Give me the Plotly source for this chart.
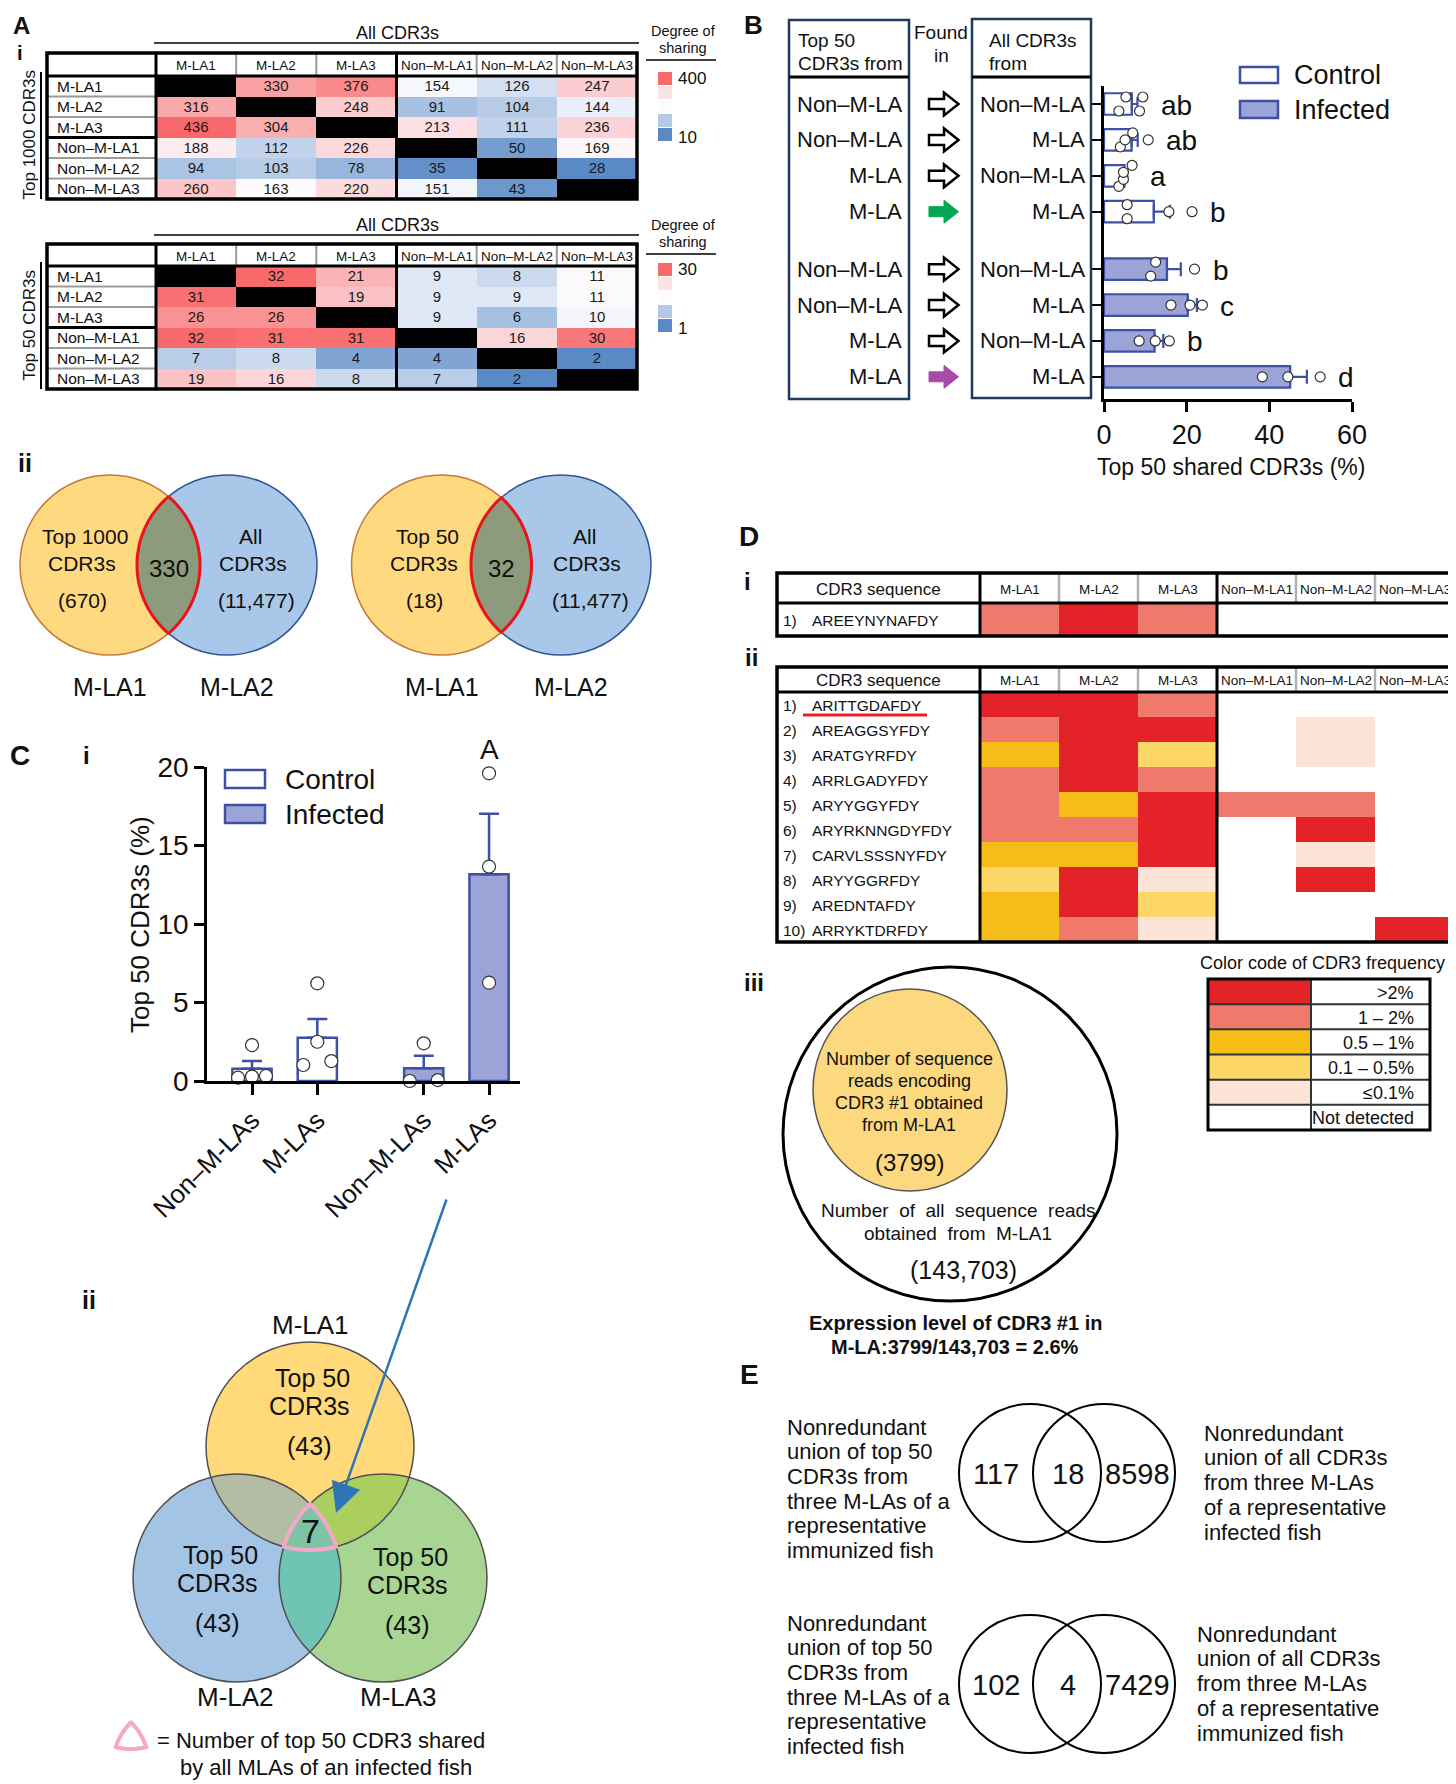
import numpy as np
import plotly.graph_objects as go
from plotly.colors import sample_colorscale

W, H = 1456, 1784          # target picture size (px)
OFF = 8                    # page body margin that the figure sits behind
SANS = "Liberation Sans, Arial, Helvetica, sans-serif"
NARROW = "Liberation Sans Narrow, Arial Narrow, Liberation Sans, sans-serif"

# ---------------- data ----------------
LA_NAMES = ["M-LA1", "M-LA2", "M-LA3", "Non–M-LA1", "Non–M-LA2", "Non–M-LA3"]
SHARED_TOP1000 = [
    [None, 330, 376, 154, 126, 247],
    [316, None, 248, 91, 104, 144],
    [436, 304, None, 213, 111, 236],
    [188, 112, 226, None, 50, 169],
    [94, 103, 78, 35, None, 28],
    [260, 163, 220, 151, 43, None],
]
SHARED_TOP50 = [
    [None, 32, 21, 9, 8, 11],
    [31, None, 19, 9, 9, 11],
    [26, 26, None, 9, 6, 10],
    [32, 31, 31, None, 16, 30],
    [7, 8, 4, 4, None, 2],
    [19, 16, 8, 7, 2, None],
]
VENN_A_TOP1000 = [670, 330, 11477]   # top-only, shared, all CDR3s
VENN_A_TOP50 = [18, 32, 11477]

B_FROM = ["Non–M-LA", "Non–M-LA", "M-LA", "M-LA", "Non–M-LA", "Non–M-LA", "M-LA", "M-LA"]
B_IN = ["Non–M-LA", "M-LA", "Non–M-LA", "M-LA", "Non–M-LA", "M-LA", "Non–M-LA", "M-LA"]
B_GROUP = ["Control"] * 4 + ["Infected"] * 4
B_POINTS = [
    [3.6, 5.3, 8.6, 9.4],
    [3.95, 5.1, 6.95, 10.7],
    [3.6, 4.7, 4.7, 6.8],
    [5.6, 5.6, 15.7, 21.3],
    [11.3, 12.5, 21.9],
    [16.2, 20.8, 23.8],
    [8.5, 12.4, 15.8],
    [38.3, 44.5, 52.3],
]
B_LETTERS = ["ab", "ab", "a", "b", "b", "c", "b", "d"]
B_XTICKS = [0, 20, 40, 60]

C_CATS = ["Non–M-LAs", "M-LAs", "Non–M-LAs", "M-LAs"]
C_GROUP = ["Control", "Control", "Infected", "Infected"]
C_POINTS = [
    [0.21, 0.28, 0.32, 2.29],
    [1.02, 1.27, 2.5, 6.22],
    [0.0, 0.06, 2.4],
    [6.26, 13.65, 19.6],
]
C_LETTERS = ["", "", "", "A"]
C_YTICKS = [0, 5, 10, 15, 20]
C_VENN_SETS = ["M-LA1", "M-LA2", "M-LA3"]
C_VENN_COUNTS = [43, 43, 43]
C_VENN_TRIPLE = 7

D_I_SEQ = ["AREEYNYNAFDY"]
D_I_FREQ = [[4, 5, 4, 0, 0, 0]]
D_II_SEQ = ["ARITTGDAFDY", "AREAGGSYFDY", "ARATGYRFDY", "ARRLGADYFDY", "ARYYGGYFDY",
            "ARYRKNNGDYFDY", "CARVLSSSNYFDY", "ARYYGGRFDY", "AREDNTAFDY", "ARRYKTDRFDY"]
D_II_FREQ = [
    [5, 5, 4, 0, 0, 0],
    [4, 5, 5, 0, 1, 0],
    [3, 5, 2, 0, 1, 0],
    [4, 5, 4, 0, 0, 0],
    [4, 3, 5, 4, 4, 0],
    [4, 4, 5, 0, 5, 0],
    [3, 3, 5, 0, 1, 0],
    [2, 5, 1, 0, 5, 0],
    [3, 5, 2, 0, 0, 0],
    [3, 4, 1, 0, 0, 5],
]
FREQ_CODES = [5, 4, 3, 2, 1, 0]
FREQ_LABELS = [">2%", "1 – 2%", "0.5 – 1%", "0.1 – 0.5%", "≤0.1%", "Not detected"]
READS_CDR3_1 = 3799
READS_TOTAL = 143703

E_VENN_1 = [117, 18, 8598]
E_VENN_2 = [102, 4, 7429]
E_TEXT_1L = ["Nonredundant", "union of top 50", "CDR3s from", "three M-LAs of a", "representative", "immunized fish"]
E_TEXT_1R = ["Nonredundant", "union of all CDR3s", "from three M-LAs", "of a representative", "infected fish"]
E_TEXT_2L = ["Nonredundant", "union of top 50", "CDR3s from", "three M-LAs of a", "representative", "infected fish"]
E_TEXT_2R = ["Nonredundant", "union of all CDR3s", "from three M-LAs", "of a representative", "immunized fish"]

# ---------------- helpers ----------------
fig = go.Figure()
shapes, annos = [], []
layout_axes = {}
FW, FH = W - OFF, H - OFF


def T(x, y, s, size=16, xa="center", ya="middle", color="#111", family=SANS, bold=False, angle=0):
    if bold:
        s = f"<b>{s}</b>"
    annos.append(dict(x=x, y=y, xref="x", yref="y", text=s, showarrow=False, xanchor=xa,
                      yanchor=ya, textangle=angle, font=dict(size=size, color=color, family=family)))


def L(x0, y0, x1, y1, color="#000", w=2):
    shapes.append(dict(type="line", xref="x", yref="y", x0=x0, y0=y0, x1=x1, y1=y1,
                       line=dict(color=color, width=w)))


def R(x0, y0, x1, y1, line="#000", w=2, fill="rgba(0,0,0,0)"):
    shapes.append(dict(type="rect", xref="x", yref="y", x0=x0, y0=y0, x1=x1, y1=y1,
                       line=dict(color=line, width=w), fillcolor=fill))


def CIRC(cx, cy, rx, ry=None, line="#000", w=2, fill="rgba(0,0,0,0)"):
    ry = rx if ry is None else ry
    shapes.append(dict(type="circle", xref="x", yref="y", x0=cx - rx, y0=cy - ry, x1=cx + rx, y1=cy + ry,
                       line=dict(color=line, width=w), fillcolor=fill))


def PATH(d, line="#000", w=2, fill="rgba(0,0,0,0)"):
    shapes.append(dict(type="path", xref="x", yref="y", path=d, line=dict(color=line, width=w), fillcolor=fill))


def region_points(circles, n=900):
    pts = []
    for i, (cx, cy, r) in enumerate(circles):
        t = np.linspace(0, 2 * np.pi, n, endpoint=False)
        xs, ys = cx + r * np.cos(t), cy + r * np.sin(t)
        ok = np.ones(n, bool)
        for j, (ox, oy, orr) in enumerate(circles):
            if j != i:
                ok &= (xs - ox) ** 2 + (ys - oy) ** 2 <= orr ** 2 + 1e-6
        pts += list(zip(xs[ok], ys[ok]))
    pts = np.array(pts)
    c = pts.mean(0)
    ang = np.arctan2(pts[:, 1] - c[1], pts[:, 0] - c[0])
    return pts[np.argsort(ang)]


def to_path(pts):
    return "M " + " L ".join(f"{x:.1f},{y:.1f}" for x, y in pts) + " Z"


def dx(a, b):
    return [(a - OFF) / FW, (b - OFF) / FW]


def dy(a, b):
    return [1 - (b - OFF) / FH, 1 - (a - OFF) / FH]


def dodge(vals, px_per_unit, diam, step):
    vals = np.asarray(vals, float)
    order = np.argsort(vals)
    offs = np.zeros(len(vals))
    clusters, cur = [], [order[0]]
    for a, b in zip(order[:-1], order[1:]):
        if (vals[b] - vals[a]) * px_per_unit < diam:
            cur.append(b)
        else:
            clusters.append(cur)
            cur = [b]
    clusters.append(cur)
    for cl in clusters:
        n = len(cl)
        if n > 1:
            spread = step * max(1, (n - 1) / 2)
            for k, idx in zip(np.linspace(-spread, spread, n), cl):
                offs[idx] = k
    return offs


# ---------------- Panel A i : sharing tables ----------------
BLUE_X, WHITE_X, RED_X = "#5A8AC6", "#FCFCFF", "#F8696B"


def share_table(mat, k, x0, xl, x1, y0, yh, y1, rowtitle, ttl_y, deg_y, sq_y0, lab_hi, lab_lo):
    z = np.array([[np.nan if v is None else v for v in row] for row in mat], float)
    vals = z[~np.isnan(z)]
    lo, med, hi = vals.min(), np.median(vals), vals.max()
    mid = (med - lo) / (hi - lo)
    cs = [[0, BLUE_X], [mid, WHITE_X], [1, RED_X]]
    txt = [["" if v is None else str(v) for v in row] for row in mat]
    n = len(mat)
    fig.add_trace(go.Heatmap(z=z, x=list(range(n)), y=list(range(n)), xaxis=f"x{k}", yaxis=f"y{k}",
                             colorscale=cs, zmin=lo, zmax=hi, showscale=False, text=txt,
                             texttemplate="%{text}", hoverinfo="skip",
                             textfont=dict(size=15, family=SANS, color="#1a1a1a")))
    diag = [[1 if v is None else np.nan for v in row] for row in mat]
    fig.add_trace(go.Heatmap(z=diag, x=list(range(n)), y=list(range(n)), xaxis=f"x{k}", yaxis=f"y{k}",
                             colorscale=[[0, "#000"], [1, "#000"]], showscale=False, hoverinfo="skip"))
    layout_axes[f"xaxis{k}"] = dict(domain=dx(xl, x1), range=[-0.5, n - 0.5], visible=False,
                                    anchor=f"y{k}", automargin=False)
    layout_axes[f"yaxis{k}"] = dict(domain=dy(yh, y1), range=[n - 0.5, -0.5], visible=False,
                                    anchor=f"x{k}", automargin=False)
    cw = (x1 - xl) / n
    rh = (y1 - yh) / n
    for j, nm in enumerate(LA_NAMES):
        T(xl + (j + 0.5) * cw, (y0 + yh) / 2 + 1, nm, size=13.5, family=NARROW)
        if j > 0 and j != 3:
            L(xl + j * cw, y0, xl + j * cw, yh, color="#9a9a9a", w=2)
    for i, nm in enumerate(LA_NAMES):
        T(x0 + 8, yh + (i + 0.5) * rh, nm, size=15.5, xa="left")
        if i > 0 and i != 3:
            L(x0, yh + i * rh, xl, yh + i * rh, color="#9a9a9a", w=2)
    L(x0, yh + 3 * rh, xl, yh + 3 * rh, w=3)
    L(x0, yh, x1, yh, w=3)
    L(xl, y0, xl, y1, w=3)
    L(xl + 3 * cw, y0, xl + 3 * cw, y1, w=3)
    R(x0, y0, x1, y1, w=3.5)
    T(397, ttl_y, "All CDR3s", size=18)
    L(154, ttl_y + 10, 639, ttl_y + 10, w=1.5)
    T(683, deg_y, "Degree of", size=14.5)
    T(683, deg_y + 17, "sharing", size=14.5)
    L(646, deg_y + 29, 716, deg_y + 29, w=1.5)
    T(29, (yh - 4 + y1) / 2, rowtitle, size=17, angle=-90)
    L(41, yh - 4, 41, y1, w=2)
    fr = [1.0, mid + 0.18 * (1 - mid), mid, mid * 0.55, 0.0]
    cols = sample_colorscale(cs, fr)
    for q, c in enumerate(cols):
        R(658, sq_y0 + q * 14, 672, sq_y0 + q * 14 + 13, line=c, w=0, fill=c)
    T(676, sq_y0 + 6, lab_hi, size=17, xa="left")
    T(676, sq_y0 + 65, lab_lo, size=17, xa="left")


T(21, 25, "A", size=24, bold=True)
T(20, 53, "i", size=20, bold=True)
share_table(SHARED_TOP1000, 2, 47, 156, 637, 53, 76, 199, "Top 1000 CDR3s", 33, 31, 72, "400", "10")
share_table(SHARED_TOP50, 3, 47, 156, 637, 244, 266, 389, "Top 50 CDR3s", 225, 225, 263, "30", "1")

# ---------------- Panel A ii : two-set Venns ----------------
T(25, 463, "ii", size=25, bold=True)
YEL, YEL_E = "#FFD97F", "#C47B3A"
BLU, BLU_E = "#A9C7E8", "#2F5597"
LENS = "#8B9B7B"


def venn2(cy, cl, cr, r, vals, left_title, lab_pos):
    CIRC(cl, cy, r, line=YEL_E, w=1.5, fill=YEL)
    CIRC(cr, cy, r, line=BLU_E, w=1.5, fill=BLU)
    PATH(to_path(region_points([(cl, cy, r), (cr, cy, r)])), line="#E8141C", w=3, fill=LENS)
    only, shared, allc = vals
    lx = lab_pos
    T(lx[0], cy - 29, left_title, size=21)
    T(lx[0] - 3, cy - 2, "CDR3s", size=21)
    T(lx[0] - 3, cy + 35, f"({only:,})", size=21)
    T((cl + cr) / 2, cy + 3, f"{shared:,}", size=24)
    T(lx[1], cy - 29, "All", size=21)
    T(lx[1] + 3, cy - 2, "CDR3s", size=21)
    T(lx[1] + 6, cy + 35, f"({allc:,})", size=21)
    T(cl, 687, "M-LA1", size=25)
    T(cr + 10, 687, "M-LA2", size=25)


venn2(565, 110, 227, 90, VENN_A_TOP1000, "Top 1000", (85, 250))
venn2(565, 441.5, 561, 90, VENN_A_TOP50, "Top 50", (427, 584))

# ---------------- Panel B ----------------
T(753, 25, "B", size=26, bold=True)
B_ROW0, B_UNIT, B_GAP = 104, 35.9, 0.6
groups = list(dict.fromkeys(B_GROUP))
b_pos = [i + B_GAP * groups.index(g) for i, g in enumerate(B_GROUP)]
EDGE = "#3D50A3"
FILLS = {"Control": "#FFFFFF", "Infected": "#9CA3D6"}
b_ppu = (1352 - 1104) / 60.0
for g in groups:
    idx = [i for i, gg in enumerate(B_GROUP) if gg == g]
    means = [float(np.mean(B_POINTS[i])) for i in idx]
    sems = [float(np.std(B_POINTS[i], ddof=1) / np.sqrt(len(B_POINTS[i]))) for i in idx]
    fig.add_trace(go.Bar(x=means, y=[b_pos[i] for i in idx], orientation="h", width=0.6,
                         marker=dict(color=FILLS[g], line=dict(color=EDGE, width=2.2)),
                         error_x=dict(type="data", array=sems, arrayminus=[0] * len(idx), symmetric=False,
                                      color=EDGE, thickness=2.2, width=7),
                         xaxis="x4", yaxis="y4", hoverinfo="skip"))
px_, py_ = [], []
for i, pts in enumerate(B_POINTS):
    offs = dodge(pts, b_ppu, 10, 7)
    for v, o in zip(pts, offs):
        px_.append(v)
        py_.append(b_pos[i] - o / B_UNIT)
fig.add_trace(go.Scatter(x=px_, y=py_, mode="markers", xaxis="x4", yaxis="y4", hoverinfo="skip",
                         marker=dict(size=10, color="white", line=dict(color="#333", width=1.2)), cliponaxis=False))
for i, lt in enumerate(B_LETTERS):
    annos.append(dict(x=max(B_POINTS[i]), y=b_pos[i], xref="x4", yref="y4", text=lt, showarrow=False,
                      xanchor="left", yanchor="middle", xshift=16, yshift=-1,
                      font=dict(size=28, family=SANS, color="#111")))
layout_axes["xaxis4"] = dict(domain=dx(1104, 1352), range=[0, 60], tickvals=B_XTICKS, ticks="outside",
                             ticklen=10, tickwidth=2.5, showline=True, linewidth=2.5, linecolor="#000",
                             tickcolor="#000", tickfont=dict(size=27, family=SANS, color="#111"),
                             showgrid=False, zeroline=False, anchor="y4", automargin=False)
layout_axes["yaxis4"] = dict(domain=dy(86, 399), range=[(399 - B_ROW0) / B_UNIT, (86 - B_ROW0) / B_UNIT],
                             tickvals=b_pos, ticks="outside", ticklen=9, tickwidth=2, tickcolor="#000",
                             showticklabels=False, showline=True, linewidth=2.5, linecolor="#000",
                             showgrid=False, zeroline=False, anchor="x4", automargin=False)
T(1231, 467, "Top 50 shared CDR3s (%)", size=23)
NAVY = "#1F3A60"
R(789, 20, 909, 399, line=NAVY, w=2.5)
L(789, 77, 909, 77, w=3)
R(972, 19, 1091, 398, line=NAVY, w=2.5)
L(972, 77, 1091, 77, w=3)
T(796, 40, "Top 50", size=19, xa="left")
T(796, 63, "CDR3s from", size=19, xa="left")
T(941, 32, "Found", size=19)
T(941, 55, "in", size=19)
T(987, 40, "All CDR3s", size=19, xa="left")
T(987, 63, "from", size=19, xa="left")
ARROW_COL = {("M-LA", "M-LA", "Control"): "#00A651", ("M-LA", "M-LA", "Infected"): "#A64CA6"}
for i in range(len(B_FROM)):
    yy = B_ROW0 + b_pos[i] * B_UNIT
    T(904, yy, B_FROM[i], size=22, xa="right")
    T(1087, yy, B_IN[i], size=22, xa="right")
    d = (f"M 929,{yy-5} L 944,{yy-5} L 944,{yy-11.5} L 958.5,{yy} L 944,{yy+11.5} "
         f"L 944,{yy+5} L 929,{yy+5} Z")
    col = ARROW_COL.get((B_FROM[i], B_IN[i], B_GROUP[i]))
    if col:
        PATH(d, line=col, w=1, fill=col)
    else:
        PATH(d, line="#000", w=2.5, fill="#fff")
R(1240, 67, 1278, 83, line=EDGE, w=2.5, fill=FILLS["Control"])
R(1240, 101, 1278, 118, line=EDGE, w=2.5, fill=FILLS["Infected"])
T(1292, 75, "Control", size=27, xa="left")
T(1292, 110, "Infected", size=27, xa="left")

# ---------------- Panel C i ----------------
T(20, 755, "C", size=28, bold=True)
T(86, 755, "i", size=24, bold=True)
C_X0, C_UNIT, C_GAP = 252, 65.3, 0.63
cgroups = list(dict.fromkeys(C_GROUP))
c_pos = [i + C_GAP * cgroups.index(g) for i, g in enumerate(C_GROUP)]
c_ppu = (1081 - 767) / 20.0
for g in cgroups:
    idx = [i for i, gg in enumerate(C_GROUP) if gg == g]
    means = [float(np.mean(C_POINTS[i])) for i in idx]
    sems = [float(np.std(C_POINTS[i], ddof=1) / np.sqrt(len(C_POINTS[i]))) for i in idx]
    fig.add_trace(go.Bar(x=[c_pos[i] for i in idx], y=means, width=0.6,
                         marker=dict(color=FILLS[g], line=dict(color=EDGE, width=2.5)),
                         error_y=dict(type="data", array=sems, arrayminus=[0] * len(idx), symmetric=False,
                                      color=EDGE, thickness=2.5, width=10),
                         xaxis="x5", yaxis="y5", hoverinfo="skip"))
cx_, cy_ = [], []
for i, pts in enumerate(C_POINTS):
    offs = dodge(pts, c_ppu, 13, 14)
    for v, o in zip(pts, offs):
        cx_.append(c_pos[i] + o / C_UNIT)
        cy_.append(v)
fig.add_trace(go.Scatter(x=cx_, y=cy_, mode="markers", xaxis="x5", yaxis="y5", hoverinfo="skip",
                         marker=dict(size=13, color="white", line=dict(color="#333", width=1.2)), cliponaxis=False))
for i, lt in enumerate(C_LETTERS):
    if lt:
        annos.append(dict(x=c_pos[i], y=max(C_POINTS[i]), xref="x5", yref="y5", text=lt, showarrow=False,
                          yanchor="bottom", yshift=6, font=dict(size=28, family=SANS, color="#111")))
layout_axes["xaxis5"] = dict(domain=dx(207, 520), range=[(207 - C_X0) / C_UNIT, (520 - C_X0) / C_UNIT],
                             tickvals=c_pos, ticktext=C_CATS, tickangle=-45, ticks="outside", ticklen=11,
                             tickwidth=2.5, tickcolor="#000", showline=True, linewidth=2.5, linecolor="#000",
                             tickfont=dict(size=26, family=SANS, color="#111"), showgrid=False,
                             zeroline=False, anchor="y5", automargin=False)
layout_axes["yaxis5"] = dict(domain=dy(767, 1081), range=[0, 20], tickvals=C_YTICKS, ticks="outside",
                             ticklen=10, tickwidth=2.5, tickcolor="#000", showline=True, linewidth=2.5,
                             linecolor="#000", tickfont=dict(size=28, family=SANS, color="#111"),
                             showgrid=False, zeroline=False, anchor="x5", automargin=False)
T(140, 925, "Top 50 CDR3s (%)", size=26, angle=-90)
R(225, 770, 265, 788, line=EDGE, w=2.5, fill=FILLS["Control"])
R(225, 805, 265, 823, line=EDGE, w=2.5, fill=FILLS["Infected"])
T(283, 779, "Control", size=28, xa="left")
T(283, 814, "Infected", size=28, xa="left")

# ---------------- Panel C ii : three-set Venn ----------------
T(89, 1300, "ii", size=25, bold=True)
VC = [(310, 1446, 104), (237, 1578, 104), (383, 1578, 104)]
V_FILL = ["#FFD97A", "#A4C4E6", "#A8D592"]
PAIR_FILL = {(0, 1): "#B4BDA3", (0, 2): "#ABCF5F", (1, 2): "#6FC4B4"}
TRIPLE_FILL = "#7CC4A3"
for (cx, cy, r), f in zip(VC, V_FILL):
    CIRC(cx, cy, r, line="rgba(0,0,0,0)", w=0, fill=f)
for (a, b), f in PAIR_FILL.items():
    PATH(to_path(region_points([VC[a], VC[b]])), line="rgba(0,0,0,0)", w=0, fill=f)
tri = region_points(VC)
PATH(to_path(tri), line="rgba(0,0,0,0)", w=0, fill=TRIPLE_FILL)
for (cx, cy, r) in VC:
    CIRC(cx, cy, r, line="#505050", w=1.5)
PATH(to_path(tri), line="#F4A7C8", w=4)
T(310, 1325, C_VENN_SETS[0], size=26)
T(235, 1697, C_VENN_SETS[1], size=26)
T(398, 1697, C_VENN_SETS[2], size=26)
for (tx, ty), n in zip([(312, 1378), (220, 1555), (410, 1557)], C_VENN_COUNTS):
    T(tx, ty, "Top 50", size=25)
    T(tx - 3, ty + 28, "CDR3s", size=25)
    T(tx - 3, ty + 68, f"({n})", size=25)
T(310, 1531, str(C_VENN_TRIPLE), size=34)
annos.append(dict(x=336, y=1513, xref="x", yref="y", ax=111, ay=-315, axref="pixel", ayref="pixel",
                  text="", showarrow=True, arrowhead=2, arrowsize=2.4, arrowwidth=2.5,
                  arrowcolor="#2E75B6", standoff=0))
c0 = tri.mean(0)
leg = (tri - c0) * 0.58 + np.array([131, 1739])
PATH(to_path(leg), line="#F4A7C8", w=4)
T(155, 1740, "= Number of top 50 CDR3 shared", size=22, xa="left")
T(326, 1767, "by all MLAs of an infected fish", size=22)

# ---------------- Panel D ----------------
T(749, 536, "D", size=28, bold=True)
T(747, 581, "i", size=24, bold=True)
T(751, 657, "ii", size=24, bold=True)
T(754, 982, "iii", size=24, bold=True)
D_COL = ["#FFFFFF", "#FCE4D6", "#FDD767", "#F6BD18", "#EF7A6B", "#E42328"]
dcs = []
for q, c in enumerate(D_COL):
    dcs += [[q / 6, c], [(q + 1) / 6, c]]
DX0, DXS, DX1 = 777, 980, 1454


def d_table(seqs, freq, k, y0, yh, rowh):
    n = len(seqs)
    y1 = yh + n * rowh
    fig.add_trace(go.Heatmap(z=freq, x=list(range(6)), y=list(range(n)), xaxis=f"x{k}", yaxis=f"y{k}",
                             colorscale=dcs, zmin=-0.5, zmax=5.5, showscale=False, hoverinfo="skip"))
    layout_axes[f"xaxis{k}"] = dict(domain=dx(DXS, DX1), range=[-0.5, 5.5], visible=False,
                                    anchor=f"y{k}", automargin=False)
    layout_axes[f"yaxis{k}"] = dict(domain=dy(yh, y1), range=[n - 0.5, -0.5], visible=False,
                                    anchor=f"x{k}", automargin=False)
    cw = (DX1 - DXS) / 6
    T((DX0 + DXS) / 2, (y0 + yh) / 2 + 1, "CDR3 sequence", size=17)
    for j, nm in enumerate(LA_NAMES):
        T(DXS + (j + 0.5) * cw, (y0 + yh) / 2 + 1, nm, size=13.5, family=NARROW)
        if j > 0 and j != 3:
            L(DXS + j * cw, y0, DXS + j * cw, yh, color="#b0b0b0", w=2.5)
    for i, s in enumerate(seqs):
        yy = yh + (i + 0.5) * rowh + 1
        T(781, yy, f"{i + 1})", size=15.5, xa="left")
        T(810, yy, s, size=15.5, xa="left")
    L(DX0, yh, DX1, yh, w=3)
    L(DXS, y0, DXS, y1, w=3)
    L(DXS + 3 * cw, y0, DXS + 3 * cw, y1, w=3)
    R(DX0, y0, DX1, y1, w=3.5)
    return y1


d_table(D_I_SEQ, D_I_FREQ, 6, 573, 603, 33)
d_table(D_II_SEQ, D_II_FREQ, 7, 667, 692, 25)
L(803, 715, 927, 715, color="#E8202A", w=3)

fig.add_trace(go.Heatmap(z=[[c] for c in FREQ_CODES], x=[0], y=list(range(len(FREQ_CODES))), xaxis="x8",
                         yaxis="y8", colorscale=dcs, zmin=-0.5, zmax=5.5, showscale=False, hoverinfo="skip"))
LG_X0, LG_XS, LG_X1, LG_Y0, LG_Y1 = 1208, 1311, 1430, 979, 1130
layout_axes["xaxis8"] = dict(domain=dx(LG_X0, LG_XS), range=[-0.5, 0.5], visible=False, anchor="y8",
                             automargin=False)
layout_axes["yaxis8"] = dict(domain=dy(LG_Y0, LG_Y1), range=[len(FREQ_CODES) - 0.5, -0.5], visible=False,
                             anchor="x8", automargin=False)
lh = (LG_Y1 - LG_Y0) / len(FREQ_CODES)
for i, lab in enumerate(FREQ_LABELS):
    T(1416, LG_Y0 + (i + 0.5) * lh + 1, lab, size=18, xa="right", family=NARROW)
    if i > 0:
        L(LG_X0, LG_Y0 + i * lh, LG_X1, LG_Y0 + i * lh, color="#333", w=2)
L(LG_XS, LG_Y0, LG_XS, LG_Y1, color="#333", w=2)
R(LG_X0, LG_Y0, LG_X1, LG_Y1, w=3)
T(1322, 963, "Color code of CDR3 frequency", size=18, family=NARROW)

CIRC(950, 1134, 167, line="#000", w=3)
CIRC(910, 1090, 97, 101, line="#555", w=1.5, fill="#FCD97E")
for k, s in enumerate(["Number of sequence", "reads encoding", "CDR3 #1 obtained", "from M-LA1"]):
    T(909, 1059 + k * 22, s, size=18, family=NARROW)
T(909, 1162, f"({READS_CDR3_1})", size=24)
T(958, 1210, "Number  of  all  sequence  reads", size=19, family=NARROW)
T(958, 1233, "obtained  from  M-LA1", size=19, family=NARROW)
T(963, 1270, f"({READS_TOTAL:,})", size=25)
pct = 100.0 * READS_CDR3_1 / READS_TOTAL
T(955, 1323, "Expression level of CDR3 #1 in", size=20, bold=True)
T(955, 1347, f"M-LA:{READS_CDR3_1}/{READS_TOTAL:,} = {pct:.1f}%", size=20, bold=True)

# ---------------- Panel E ----------------
T(749, 1374, "E", size=28, bold=True)


def venn_e(cy, vals, left_lines, right_lines, ly0, rx, ry0):
    CIRC(1030, cy, 71, 69, line="#000", w=2)
    CIRC(1104, cy, 71, 69, line="#000", w=2)
    for x, v in zip([996, 1068, 1137], vals):
        T(x, cy + 1, str(v), size=29)
    for k, s in enumerate(left_lines):
        T(785, ly0 + k * 24.7, s, size=22, xa="left", family=NARROW)
    for k, s in enumerate(right_lines):
        T(rx, ry0 + k * 24.8, s, size=22, xa="left", family=NARROW)


venn_e(1473, E_VENN_1, E_TEXT_1L, E_TEXT_1R, 1427, 1202, 1433)
venn_e(1684, E_VENN_2, E_TEXT_2L, E_TEXT_2R, 1623, 1195, 1634)

# ---------------- layout ----------------
fig.update_layout(
    width=FW, height=FH, margin=dict(l=0, r=0, t=0, b=0, pad=0, autoexpand=False),
    paper_bgcolor="white", plot_bgcolor="rgba(0,0,0,0)", showlegend=False, barmode="overlay",
    xaxis=dict(domain=[0, 1], range=[OFF, W], visible=False, fixedrange=True, automargin=False),
    yaxis=dict(domain=[0, 1], range=[H, OFF], visible=False, fixedrange=True, automargin=False),
    shapes=shapes, annotations=annos, font=dict(family=SANS, color="#111"),
    **layout_axes,
)
fig.write_html("out.html")
